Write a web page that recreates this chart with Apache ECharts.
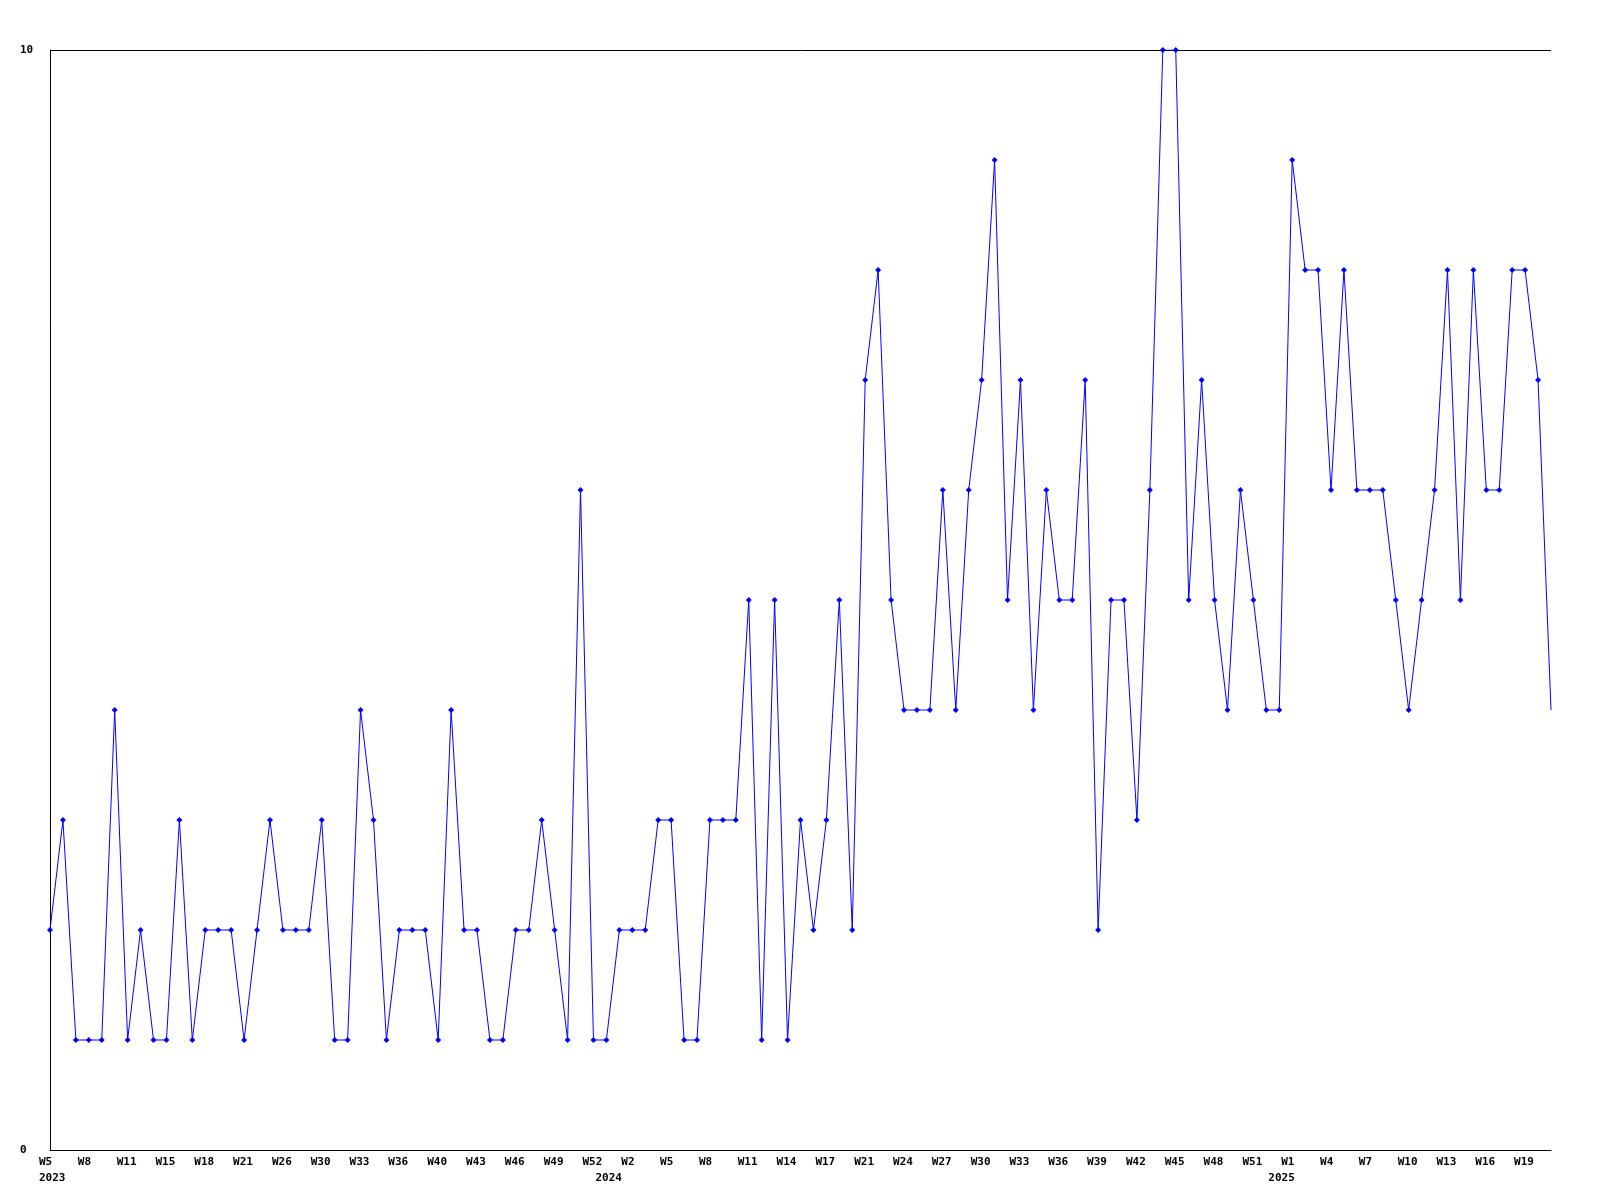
<!DOCTYPE html>
<html>
<head>
<meta charset="utf-8">
<style>
  html, body { margin: 0; padding: 0; background: #ffffff; }
  #chart { width: 1600px; height: 1200px; }
</style>
<script src="https://cdn.jsdelivr.net/npm/echarts@6/dist/echarts.min.js"></script>
</head>
<body>
<div id="chart"></div>
<script>
// Week labels per year (sampled weeks, some weeks missing in the source)
var weeks2023 = ['W5','W6','W7','W8','W9','W10','W11','W12','W14','W15','W16','W17','W18','W19','W20','W21','W23','W24','W26','W27','W29','W30','W31','W32','W33','W34','W35','W36','W37','W39','W40','W41','W42','W43','W44','W45','W46','W47','W48','W49','W50','W51','W52'];
var weeks2024 = ['W0','W1','W2','W3','W4','W5','W6','W7','W8','W9','W10','W11','W12','W13','W14','W15','W16','W17','W18','W20','W21','W22','W23','W24','W25','W26','W27','W28','W29','W30','W31','W32','W33','W34','W35','W36','W37','W38','W39','W40','W41','W42','W43','W44','W45','W46','W47','W48','W49','W50','W51','W52'];
var weeks2025 = ['W0','W1','W2','W3','W4','W5','W6','W7','W8','W9','W10','W11','W12','W13','W14','W15','W16','W17','W18','W19','W20','W21'];

var values = [
  2,3,1,1,1,4,1,2,1,1,
  3,1,2,2,2,1,2,3,2,2,
  2,3,1,1,4,3,1,2,2,2,
  1,4,2,2,1,1,2,2,3,2,
  1,6,1,1,2,2,2,3,3,1,
  1,3,3,3,5,1,5,1,3,2,
  3,5,2,7,8,5,4,4,4,6,
  4,6,7,9,5,7,4,6,5,5,
  7,2,5,5,3,6,10,10,5,7,
  5,4,6,5,4,4,9,8,8,6,
  8,6,6,6,5,4,5,6,8,5,
  8,6,6,8,8,7,4
];

var yMin = 0, yMax = 10;

// Build categories
var weekLabels = [], yearLabels = [], categories = [];
[[2023, weeks2023], [2024, weeks2024], [2025, weeks2025]].forEach(function (p) {
  p[1].forEach(function (w) {
    weekLabels.push(w);
    yearLabels.push(String(p[0]));
    categories.push(p[0] + '-' + w);
  });
});
var yearStart = {};
yearLabels.forEach(function (y, i) { if (!(y in yearStart)) yearStart[y] = i; });

var font = { fontFamily: 'DejaVu Sans Mono', fontWeight: 'bold', fontSize: 11, color: '#000000' };

var chart = echarts.init(document.getElementById('chart'), null, { renderer: 'canvas' });
chart.setOption({
  backgroundColor: '#ffffff',
  animation: false,
  grid: { left: 50, right: 49, top: 50, bottom: 50, containLabel: false },
  xAxis: [{
    type: 'category',
    position: 'bottom',
    data: categories,
    boundaryGap: false,
    axisLine: { show: true, lineStyle: { color: '#000000', width: 1 } },
    axisTick: { show: false },
    splitLine: { show: false },
    axisLabel: Object.assign({
      interval: 2,
      margin: 7,
      align: 'left',
      padding: [0, 0, 0, -11],
      formatter: function (v, i) { return weekLabels[i]; }
    }, font)
  }, {
    type: 'category',
    position: 'bottom',
    data: categories,
    boundaryGap: false,
    axisLine: { show: false },
    axisTick: { show: false },
    splitLine: { show: false },
    axisLabel: Object.assign({
      margin: 23,
      align: 'left',
      padding: [0, 0, 0, -11],
      interval: function (i) { return yearStart[yearLabels[i]] === i; },
      formatter: function (v, i) { return yearLabels[i]; }
    }, font)
  }],
  yAxis: {
    type: 'value',
    min: yMin,
    max: yMax,
    interval: 10,
    axisLine: { show: true, lineStyle: { color: '#000000', width: 1 } },
    axisTick: { show: false },
    splitLine: { show: true, lineStyle: { color: '#000000', width: 1 } },
    axisLabel: Object.assign({ align: 'left', margin: 30 }, font)
  },
  series: [{
    type: 'line',
    xAxisIndex: 0,
    data: values.map(function (v, i) {
      return i === values.length - 1 ? { value: v, symbolSize: 0 } : v;
    }),
    symbol: 'diamond',
    symbolSize: 6,
    showAllSymbol: true,
    lineStyle: { color: '#0000ff', width: 1 },
    itemStyle: { color: '#0000ff' }
  }]
});
</script>
</body>
</html>
